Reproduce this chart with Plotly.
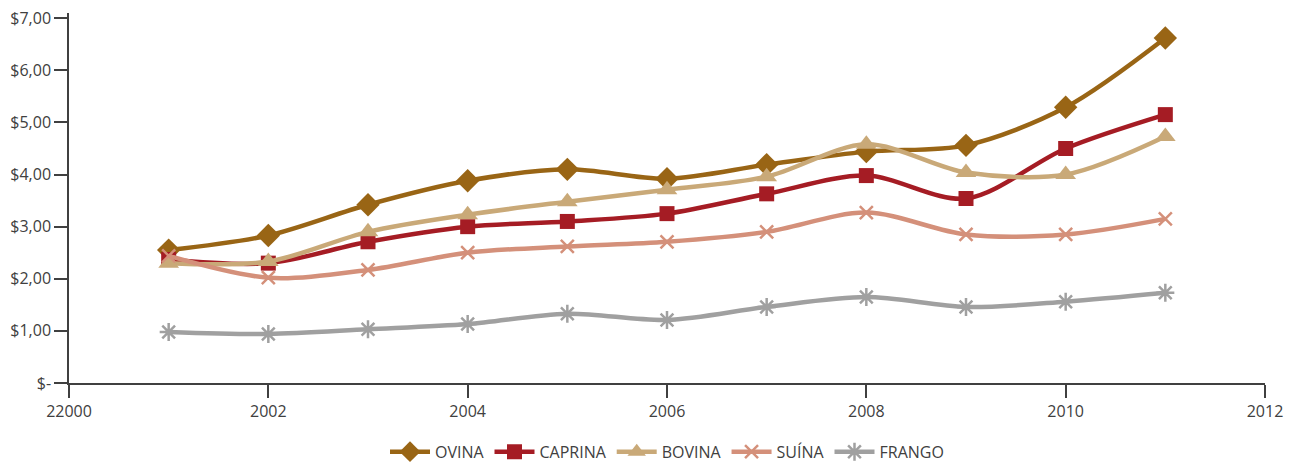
import plotly.graph_objects as go

years = [2001, 2002, 2003, 2004, 2005, 2006, 2007, 2008, 2009, 2010, 2011]
ovina = [2.55, 2.83, 3.42, 3.88, 4.10, 3.92, 4.19, 4.44, 4.56, 5.29, 6.62]
caprina = [2.37, 2.30, 2.71, 3.00, 3.10, 3.25, 3.63, 3.98, 3.54, 4.50, 5.15]
bovina = [2.30, 2.33, 2.90, 3.23, 3.48, 3.71, 3.96, 4.58, 4.04, 4.00, 4.73]
suina = [2.44, 2.02, 2.17, 2.50, 2.62, 2.71, 2.90, 3.27, 2.85, 2.85, 3.15]
frango = [0.98, 0.94, 1.03, 1.13, 1.33, 1.21, 1.46, 1.65, 1.46, 1.56, 1.73]

x_tickvals = [2000, 2002, 2004, 2006, 2008, 2010, 2012]
x_ticktext = ["22000", "2002", "2004", "2006", "2008", "2010", "2012"]
y_tickvals = [0, 1, 2, 3, 4, 5, 6, 7]
y_ticktext = ["$-", "$1,00", "$2,00", "$3,00", "$4,00", "$5,00", "$6,00", "$7,00"]

series = [
    ("OVINA", ovina, "#996515", "diamond", 18, 0),
    ("CAPRINA", caprina, "#A51C24", "square", 15, 0),
    ("BOVINA", bovina, "#C9A978", "triangle-up", 18, 0),
    ("SUÍNA", suina, "#D4907A", "x-thin-open", 13, 2.5),
    ("FRANGO", frango, "#A0A0A0", "asterisk-open", 15, 2.5),
]

fig = go.Figure()
for name, vals, color, sym, size, lw in series:
    marker = dict(symbol=sym, size=size, color=color)
    if lw:
        marker["line"] = dict(color=color, width=lw)
    fig.add_trace(go.Scatter(
        x=years, y=vals, name=name, mode="lines+markers",
        line=dict(color=color, width=4.5, shape="spline", smoothing=0.9),
        marker=marker,
    ))

fnt = dict(family="Open Sans, Noto Sans, sans-serif", size=16, color="#404040")
fig.update_layout(
    width=1290, height=464,
    margin=dict(l=69, r=25, t=13, b=81, autoexpand=False),
    paper_bgcolor="white", plot_bgcolor="white",
    font=fnt,
    showlegend=True,
    legend=dict(orientation="h", x=0.5, xanchor="center", y=-0.186, yanchor="middle",
                font=fnt, itemwidth=40, tracegroupgap=0),
)
fig.update_xaxes(
    range=[2000, 2012], tickvals=x_tickvals, ticktext=x_ticktext,
    showgrid=False, zeroline=False, showline=True, linecolor="#404040", linewidth=1.5,
    ticks="outside", ticklen=13, tickwidth=1.5, tickcolor="#404040",
    tickfont=fnt,
)
fig.update_yaxes(
    range=[0, 7.1], tickvals=y_tickvals, ticktext=y_ticktext,
    showgrid=False, zeroline=False, showline=True, linecolor="#404040", linewidth=1.5,
    ticks="outside", ticklen=13, tickwidth=1.5, tickcolor="#404040",
    tickfont=fnt,
)
fig.write_html("out.html")
